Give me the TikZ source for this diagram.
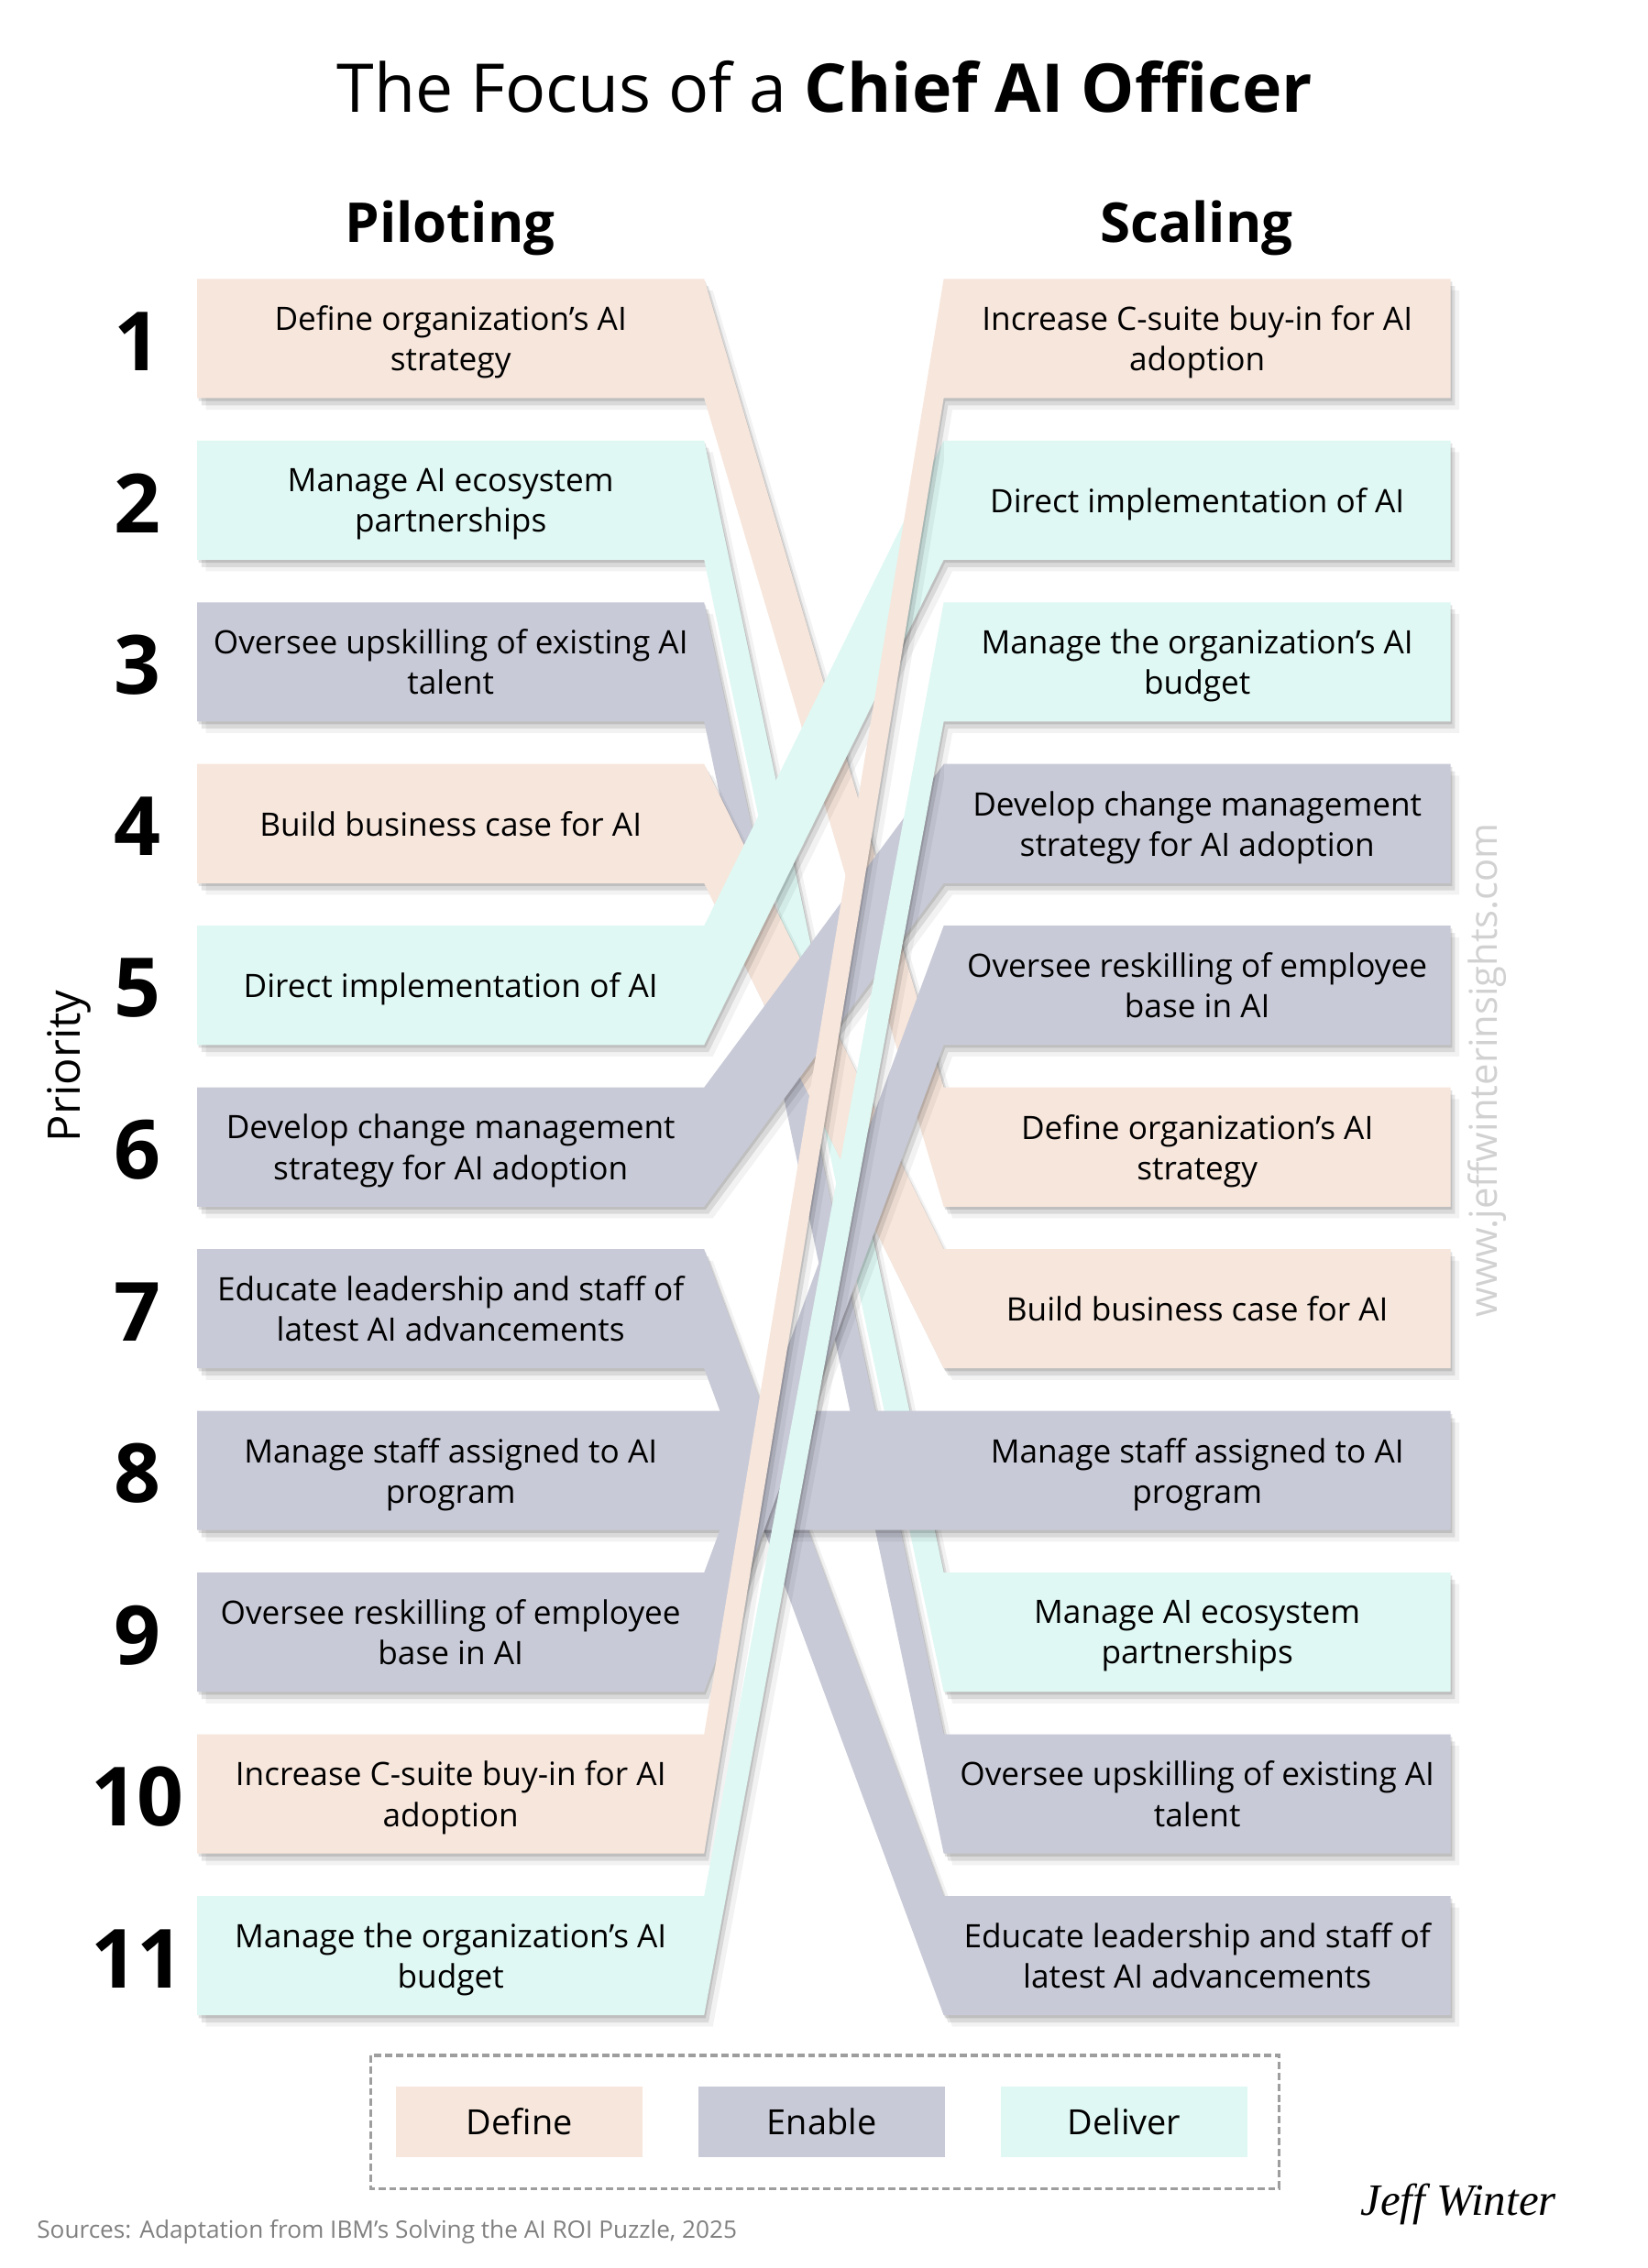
\documentclass[tikz,border=0pt]{standalone}
\usepackage{fontspec}
\setmainfont{Open Sans}
\newfontfamily\signfont{Liberation Serif}
\usetikzlibrary{shadows}
\definecolor{definecol}{HTML}{F7E6DC}
\definecolor{enablecol}{HTML}{C8CAD7}
\definecolor{delivercol}{HTML}{DFF8F3}
\pgfdeclarelayer{bands}
\pgfsetlayers{bands,main}

\begin{document}
\begin{tikzpicture}[x=1pt,y=-1pt,
  task/.style={minimum width=350pt,minimum height=82pt,inner sep=0pt,align=center,
    font=\fontsize{22.3}{28}\selectfont},
  rank/.style={font=\fontsize{56.5}{56}\selectfont\bfseries},
  band/.style={drop shadow={shadow xshift=1pt,shadow yshift=-2pt,fill=black,opacity=.12},
    drop shadow={shadow xshift=3pt,shadow yshift=-5pt,fill=black,opacity=.10},
    drop shadow={shadow xshift=6pt,shadow yshift=-8pt,fill=black,opacity=.05}},
  key/.style={minimum width=170pt,minimum height=49pt,inner sep=0pt,
    font=\fontsize{24}{24}\selectfont}]
  \useasboundingbox (0,0) rectangle (1139,1568);
  % title
  \node (title) at (570,60) {\fontsize{46.5}{46}\selectfont The Focus of a \textbf{Chief AI Officer}};
  \node[font=\fontsize{38}{38}\selectfont\bfseries] (pilot) at (311,158) {Piloting};
  \node[font=\fontsize{38}{38}\selectfont\bfseries] (scale) at (827,158) {Scaling};
  \node[rotate=90,font=\fontsize{31}{31}\selectfont] (prio) at (48,737) {Priority};
  % rows: piloting rank / scaling rank / colour / text
  \foreach \k/\j/\col/\txt in {
      1/6/definecol/{Define organization’s AI\\strategy},
      2/9/delivercol/{Manage AI ecosystem\\partnerships},
      3/10/enablecol/{Oversee upskilling of existing AI\\talent},
      4/7/definecol/{Build business case for AI},
      5/2/delivercol/{Direct implementation of AI},
      6/4/enablecol/{Develop change management\\strategy for AI adoption},
      7/11/enablecol/{Educate leadership and staff of\\latest AI advancements},
      8/8/enablecol/{Manage staff assigned to AI\\program},
      9/5/enablecol/{Oversee reskilling of employee\\base in AI},
      10/1/definecol/{Increase C-suite buy-in for AI\\adoption},
      11/3/delivercol/{Manage the organization’s AI\\budget}}{
    \pgfmathsetmacro{\yl}{234+(\k-1)*111.8}
    \pgfmathsetmacro{\yr}{234+(\j-1)*111.8}
    \node[rank] (n\k) at (95,\yl+2) {\k};
    \node[task,fill=\col,text depth=-3pt] (l\k) at (311.5,\yl) {\txt};
    \node[task,fill=\col,text depth=-3pt] (r\j) at (827.5,\yr) {\txt};
    \begin{pgfonlayer}{bands}
      \fill[\col,band] (l\k.north west) -- (l\k.north east) -- (r\j.north west)
        -- (r\j.north east) -- (r\j.south east) -- (r\j.south west)
        -- (l\k.south east) -- (l\k.south west) -- cycle;
    \end{pgfonlayer}
  }
  % legend
  \draw[black!38,line width=2pt,dash pattern=on 5pt off 2.5pt] (256,1421) rectangle (884,1513);
  \node[key,fill=definecol] (kdef) at (359,1467) {Define};
  \node[key,fill=enablecol] (kenb) at (568,1467) {Enable};
  \node[key,fill=delivercol] (kdlv) at (777,1467) {Deliver};
  % footer
  \node[anchor=west,text=black!50,font=\fontsize{16.6}{16}\selectfont] (src) at (22,1543)
    {Sources: Adaptation from IBM’s Solving the AI ROI Puzzle, 2025};
  \node[font=\signfont\itshape\fontsize{31}{31}\selectfont] (sig) at (1008,1524) {Jeff Winter};
  \node[rotate=90,text=black!18,font=\fontsize{26.5}{26.5}\selectfont] (web) at (1028,740)
    {www.jeffwinterinsights.com};
\end{tikzpicture}
\end{document}
